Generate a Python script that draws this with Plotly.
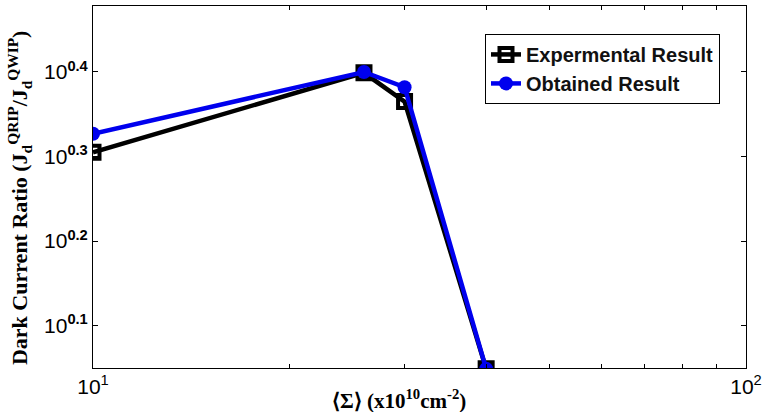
import plotly.graph_objects as go

x_vals = [10, 26, 30, 40]
exp_result = [10**0.305, 10**0.399, 10**0.365, 10**0.049]
obt_result = [10**0.327, 10**0.400, 10**0.382, 10**0.049]

y_tick_exps = [0.1, 0.2, 0.3, 0.4]
y_tick_vals = [10**e for e in y_tick_exps]
y_tick_text = ["10<sup><b>%.1f</b></sup>" % e for e in y_tick_exps]
x_tick_vals = [10, 100]
x_tick_text = ["10<sup>1</sup>", "10<sup>2</sup>"]
x_minor = [20, 30, 40, 50, 60, 70, 80, 90]

fig = go.Figure()
fig.add_trace(go.Scatter(
    x=x_vals, y=exp_result, mode="lines+markers", name="<b>Expermental Result</b>",
    line=dict(color="black", width=4.5),
    marker=dict(symbol="square-open", size=13, color="black", line=dict(width=4, color="black")),
))
fig.add_trace(go.Scatter(
    x=x_vals, y=obt_result, mode="lines+markers", name="<b>Obtained Result</b>",
    line=dict(color="#0000ee", width=4.5),
    marker=dict(symbol="circle", size=14, color="#0000ee"),
))

W, H = 767, 412
L, R, T, B = 93, 16, 5, 44

fig.update_layout(
    width=W, height=H,
    margin=dict(l=L, r=R, t=T, b=B),
    paper_bgcolor="white", plot_bgcolor="white",
    font=dict(family="Liberation Sans, Arial", size=20, color="black"),
    showlegend=True,
    legend=dict(
        x=(488 - L) / (W - L - R), y=1 - (33 - T) / (H - T - B),
        xanchor="left", yanchor="top",
        bgcolor="white", bordercolor="black", borderwidth=1,
        font=dict(family="Liberation Sans, Arial", size=20, color="#111111"),
        tracegroupgap=0,
    ),
    xaxis=dict(
        type="log", range=[1, 2],
        tickmode="array", tickvals=x_tick_vals, ticktext=x_tick_text,
        ticks="inside", ticklen=5, tickcolor="black",
        showline=True, linecolor="black", linewidth=1, mirror="ticks",
        showgrid=False, zeroline=False,
        minor=dict(tickvals=x_minor, ticks="inside", ticklen=4, tickcolor="black"),
        tickfont=dict(family="Liberation Sans, Arial", size=21),
    ),
    yaxis=dict(
        type="log", range=[0.05, 0.478],
        tickmode="array", tickvals=y_tick_vals, ticktext=y_tick_text,
        ticks="inside", ticklen=5, tickcolor="black",
        showline=True, linecolor="black", linewidth=1, mirror="ticks",
        showgrid=False, zeroline=False,
        tickfont=dict(family="Liberation Sans, Arial", size=21),
    ),
)

fig.add_annotation(
    text="<b>Dark Current Ratio (J<sub>d</sub><sup>QRIP</sup>/J<sub>d</sub><sup>QWIP</sup>)</b>",
    xref="paper", yref="paper",
    x=-(L - 19) / (W - L - R), y=1 - (198 - T) / (H - T - B),
    textangle=-90, showarrow=False, xanchor="center", yanchor="middle",
    font=dict(family="Liberation Serif, Times New Roman", size=22, color="black"),
)
fig.add_annotation(
    text="<b>⟨Σ⟩ (x10<sup>10</sup>cm<sup>-2</sup>)</b>",
    xref="paper", yref="paper",
    x=(401 - L) / (W - L - R), y=-(400 - (H - B)) / (H - T - B),
    showarrow=False, xanchor="center", yanchor="middle",
    font=dict(family="Liberation Serif, Times New Roman", size=21, color="black"),
)

fig.write_html("out.html")
